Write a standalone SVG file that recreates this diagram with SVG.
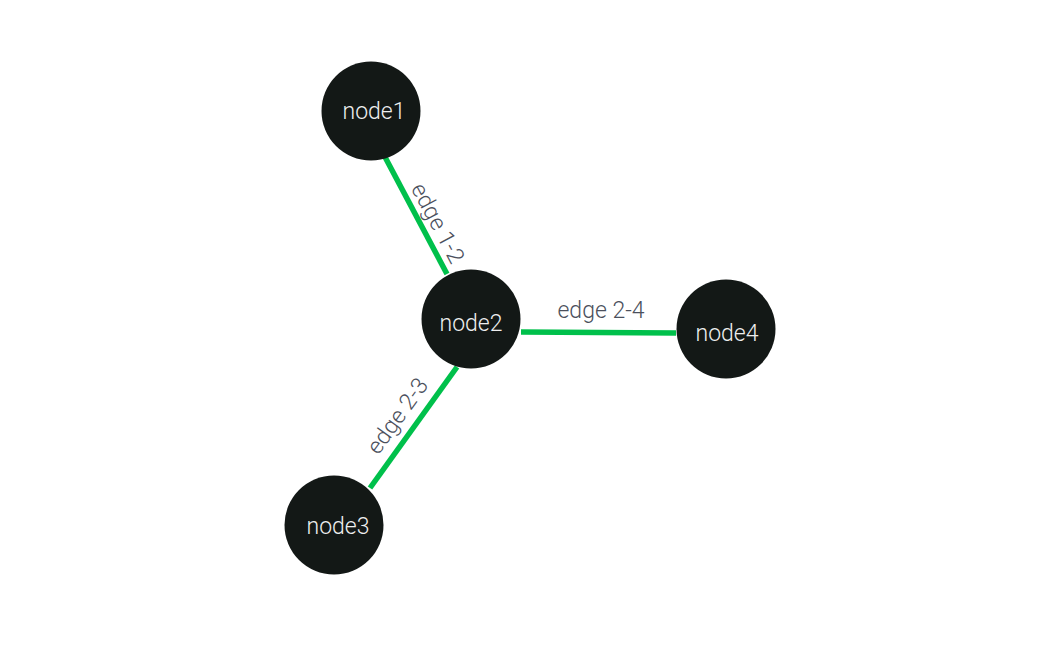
<svg xmlns="http://www.w3.org/2000/svg" width="1060" height="667" viewBox="0 0 1060 667">
<style>
.edge{stroke:#00c04b;stroke-width:5.5;fill:none;stroke-linecap:butt}
.elabel{font-family:Roboto,"Liberation Sans",sans-serif;font-weight:300;font-size:23px;fill:#4b505c;text-anchor:middle}
.node circle{fill:#131816}
.node text{font-family:Roboto,"Liberation Sans",sans-serif;font-weight:300;font-size:23px;fill:#eeeeee;text-anchor:middle}
</style>
<rect width="1060" height="667" fill="#ffffff"/>
<g id="connectors">
<line class="edge" x1="385" y1="157" x2="447" y2="274"/>
<line class="edge" x1="457" y1="367" x2="370" y2="488"/>
<line class="edge" x1="521" y1="332" x2="676" y2="333"/>
<text class="elabel" transform="translate(416,215.5) rotate(62)" x="17" y="-8">edge 1-2</text>
<text class="elabel" transform="translate(413.5,427.5) rotate(-54.3)" x="0" y="-12">edge 2-3</text>
<text class="elabel" x="601" y="318">edge 2-4</text>
</g>
<g id="node1" class="node"><circle cx="371" cy="111" r="49.5"/><text x="374" y="119">node1</text></g>
<g id="node2" class="node"><circle cx="471" cy="319" r="49.5"/><text x="471" y="331">node2</text></g>
<g id="node3" class="node"><circle cx="334" cy="525" r="49.5"/><text x="338" y="534">node3</text></g>
<g id="node4" class="node"><circle cx="726" cy="329" r="49.5"/><text x="727" y="341">node4</text></g>
</svg>
